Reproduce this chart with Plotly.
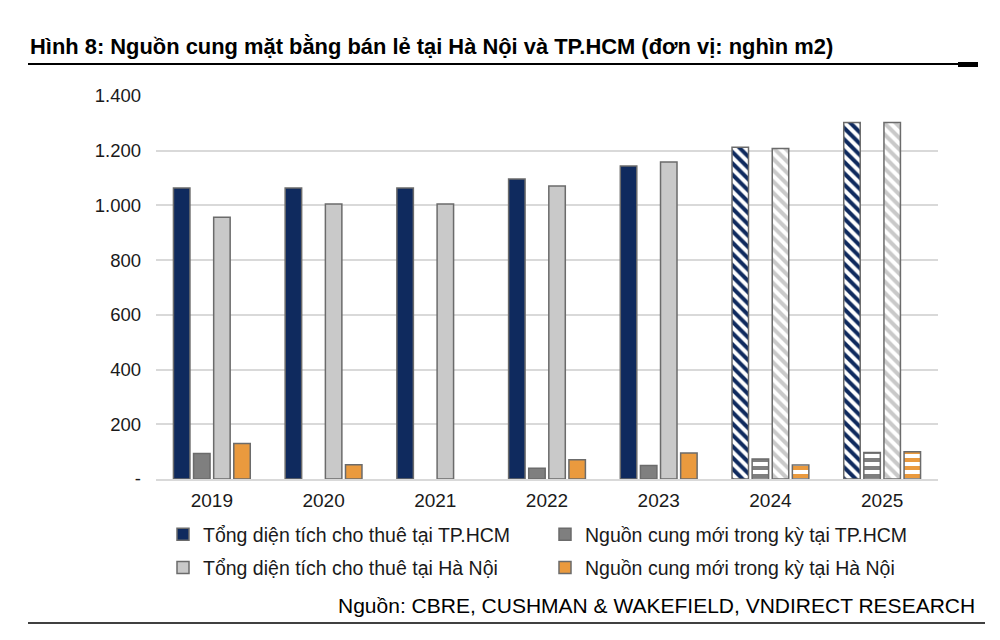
import plotly.graph_objects as go

years = ["2019", "2020", "2021", "2022", "2023", "2024", "2025"]
hcm_total = [1064, 1064, 1064, 1097, 1144, 1213, 1303]
hcm_new = [93, None, None, 39, 49, 73, 97]
hn_total = [957, 1005, 1005, 1071, 1159, 1208, 1303]
hn_new = [130, 52, None, 70, 95, 51, 100]
tick_vals = [0, 200, 400, 600, 800, 1000, 1200, 1400]
tick_text = ["-", "200", "400", "600", "800", "1.000", "1.200", "1.400"]

names = ["Tổng diện tích cho thuê tại TP.HCM", "Nguồn cung mới trong kỳ tại TP.HCM",
         "Tổng diện tích cho thuê tại Hà Nội", "Nguồn cung mới trong kỳ tại Hà Nội"]
series = [hcm_total, hcm_new, hn_total, hn_new]
colors = ["#0f2a5e", "#7f7f7f", "#c9c9c9", "#ea9a3e"]
forecast_shape = ["\\", "-", "\\", "-"]
legend_ids = ["legend", "legend2", "legend", "legend2"]

font = "Liberation Sans, Arial, sans-serif"
# page renders with an 8px body offset; compensate
OFF = 8
PL, PT, PW, PH = 156 - OFF, 96 - OFF, 782, 383


def px(xp):
    return (xp - OFF - PL) / PW


def py(yp):
    return (PT + PH - (yp - OFF)) / PH


fig = go.Figure()
for i, (name, vals, col, fs, lg) in enumerate(zip(names, series, colors, forecast_shape, legend_ids)):
    shapes = ["" if int(y) < 2024 else fs for y in years]
    fig.add_trace(go.Bar(
        x=years, y=vals, name=name, legend=lg, legendgroup="g%d" % i,
        marker=dict(color=col, line=dict(color="#6b6b6b", width=1.5),
                    pattern=dict(shape=shapes, fillmode="replace", bgcolor="white",
                                 fgcolor=col, size=8, solidity=0.5)),
    ))

legend_common = dict(xanchor="left", yanchor="top", orientation="v",
                     font=dict(size=19.5, family=font, color="#1a1a1a"),
                     itemwidth=30, tracegroupgap=5, bgcolor="rgba(0,0,0,0)")

fig.update_layout(
    width=1000, height=640,
    paper_bgcolor="white", plot_bgcolor="white",
    margin=dict(l=PL, r=1000 - PL - PW, t=PT, b=640 - PT - PH),
    barmode="group", bargap=0.28, bargroupgap=0.18,
    font=dict(family=font, size=19, color="#1a1a1a"),
    showlegend=True,
    legend=dict(x=px(163), y=py(515), **legend_common),
    legend2=dict(x=px(545), y=py(515), **legend_common),
    xaxis=dict(showline=True, linecolor="#d9d9d9", linewidth=1.5, ticks="",
               tickfont=dict(size=19), ticklabelstandoff=3),
    yaxis=dict(range=[0, 1400], tickvals=tick_vals, ticktext=tick_text,
               showgrid=True, gridcolor="#d9d9d9", gridwidth=1.5, zeroline=False,
               ticks="", tickfont=dict(size=18.5), ticklabelstandoff=14),
)

fig.add_annotation(text="<b>Hình 8: Nguồn cung mặt bằng bán lẻ tại Hà Nội và TP.HCM (đơn vị: nghìn m2)</b>",
                   xref="paper", yref="paper", x=px(28), y=py(46),
                   xanchor="left", yanchor="middle", showarrow=False,
                   font=dict(size=21.9, family=font, color="black"))
fig.add_annotation(text="Nguồn: CBRE, CUSHMAN & WAKEFIELD, VNDIRECT RESEARCH",
                   xref="paper", yref="paper", x=px(977), y=py(605),
                   xanchor="right", yanchor="middle", showarrow=False,
                   font=dict(size=21, family=font, color="black"))

fig.add_shape(type="line", xref="paper", yref="paper", x0=px(28), x1=px(975), y0=py(64), y1=py(64),
              line=dict(color="black", width=2))
fig.add_shape(type="rect", xref="paper", yref="paper", x0=px(958), x1=px(978), y0=py(62), y1=py(67),
              line=dict(width=0), fillcolor="black")
fig.add_shape(type="line", xref="paper", yref="paper", x0=px(28), x1=px(985), y0=py(623), y1=py(623),
              line=dict(color="black", width=1.5))

fig.write_html("out.html")
